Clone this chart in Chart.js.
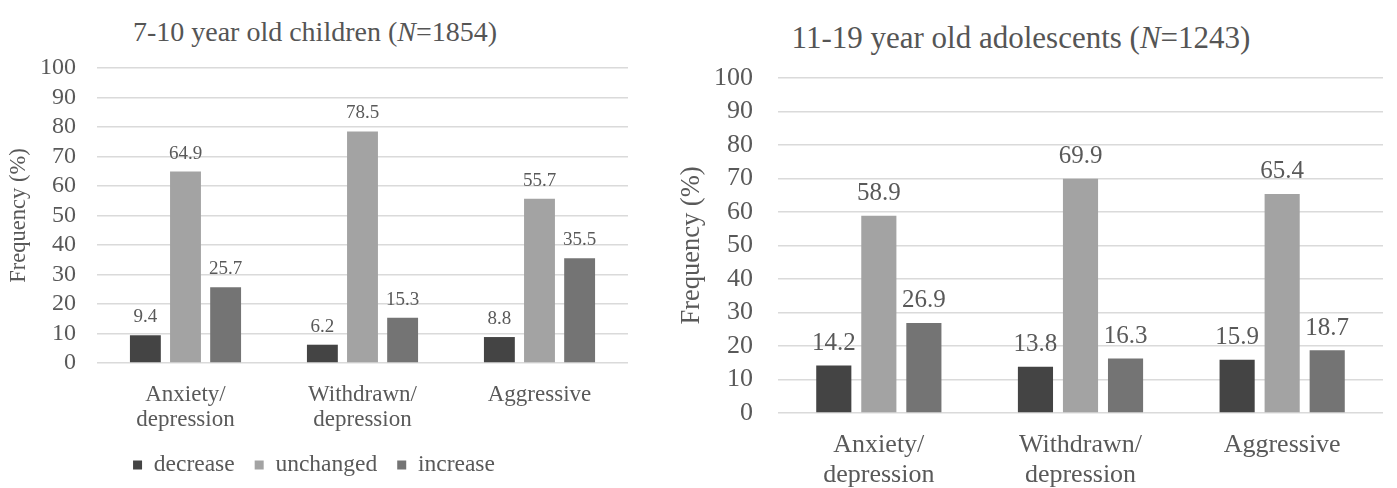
<!DOCTYPE html>
<html>
<head>
<meta charset="utf-8">
<script src="https://cdn.jsdelivr.net/npm/chart.js@4.4.1/dist/chart.umd.min.js"></script>
<style>
  body { margin: 0; background: #fff; overflow: hidden; width: 1397px; height: 488px; position: relative; }
  .title { position: absolute; font-family: 'Liberation Serif', serif; color: #555; text-align: center; white-space: nowrap; }
  #leftBox { position: absolute; left: 0; top: 0; width: 650px; height: 488px; }
  #rightBox { position: absolute; left: 660px; top: 0; width: 737px; height: 500px; }
</style>
</head>
<body>
<div class="title" style="left:115px;top:14px;width:400px;font-size:28px;line-height:36px;">7-10 year old children (<i>N</i>=1854)</div>
<div class="title" style="left:771px;top:18px;width:500px;font-size:31px;line-height:40px;">11-19 year old adolescents (<i>N</i>=1243)</div>
<div id="leftBox"><canvas id="left"></canvas></div>
<div id="rightBox"><canvas id="right"></canvas></div>
<script>
const categories = [['Anxiety/', 'depression'], ['Withdrawn/', 'depression'], 'Aggressive'];
const seriesNames = ['decrease', 'unchanged', 'increase'];
const seriesColors = ['#444444', '#a3a3a3', '#747474'];

const childDecrease = [9.4, 6.2, 8.8];
const childUnchanged = [64.9, 78.5, 55.7];
const childIncrease = [25.7, 15.3, 35.5];

const teenDecrease = [14.2, 13.8, 15.9];
const teenUnchanged = [58.9, 69.9, 65.4];
const teenIncrease = [26.9, 16.3, 18.7];

const yMax = 100;
const yStep = 10;

const textColor = '#595959';
const serif = '"Liberation Serif", "Times New Roman", serif';
Chart.defaults.font.family = serif;

// draws the value above every bar
const valueLabels = {
  id: 'valueLabels',
  afterDatasetsDraw(chart, args, opts) {
    const ctx = chart.ctx;
    ctx.save();
    ctx.font = opts.size + 'px ' + serif;
    ctx.fillStyle = textColor;
    ctx.textAlign = 'center';
    ctx.textBaseline = 'middle';
    chart.data.datasets.forEach((ds, i) => {
      chart.getDatasetMeta(i).data.forEach((bar, j) => {
        ctx.fillText(ds.data[j].toFixed(1), bar.x, bar.y - opts.offset);
      });
    });
    ctx.restore();
  }
};

function makeChart(id, values, s) {
  return new Chart(document.getElementById(id), {
    type: 'bar',
    data: {
      labels: categories,
      datasets: values.map((v, i) => ({
        label: seriesNames[i],
        data: v,
        backgroundColor: seriesColors[i],
        categoryPercentage: s.cp,
        barPercentage: s.bp
      }))
    },
    plugins: [valueLabels],
    options: {
      responsive: true,
      maintainAspectRatio: false,
      animation: false,
      layout: { padding: { top: s.top, right: s.right, bottom: s.bottom, left: 0 } },
      plugins: {
        tooltip: { enabled: false },
        valueLabels: { size: s.valueSize, offset: s.valueOffset },
        legend: {
          display: s.legend,
          position: 'bottom',
          labels: {
            boxWidth: 9,
            boxHeight: 9,
            padding: 20,
            color: textColor,
            font: { family: serif, size: s.legendSize }
          }
        }
      },
      scales: {
        x: {
          grid: { display: false, drawTicks: false },
          border: { display: false },
          ticks: {
            color: textColor,
            padding: s.xPad,
            maxRotation: 0,
            font: { family: serif, size: s.font, lineHeight: s.xLine }
          },
          afterFit: scale => { scale.height = s.xHeight; }
        },
        y: {
          min: 0,
          max: yMax,
          ticks: {
            stepSize: yStep,
            autoSkip: false,
            color: textColor,
            padding: s.yPad,
            font: { family: serif, size: s.tickSize }
          },
          grid: { color: '#dadada', lineWidth: 1.5, drawTicks: false },
          border: { display: false },
          title: {
            display: true,
            text: 'Frequency (%)',
            color: textColor,
            padding: { top: s.titlePad, bottom: 0 },
            font: { family: serif, size: s.yTitleSize }
          },
          afterFit: scale => { scale.width = s.yWidth; }
        }
      }
    }
  });
}

function drawAll() {
  makeChart('left', [childDecrease, childUnchanged, childIncrease], {
    cp: 0.68, bp: 0.77, top: 68, right: 22, bottom: 1.25,
    font: 23, tickSize: 24, xLine: 1.1, xPad: 19, xHeight: 70.25, yPad: 21, yWidth: 97,
    titlePad: 6, yTitleSize: 22.5, valueSize: 19, valueOffset: 18,
    legend: true, legendSize: 23.5
  });

  makeChart('right', [teenDecrease, teenUnchanged, teenIncrease], {
    cp: 0.67, bp: 0.78, top: 78, right: 14, bottom: 0,
    font: 26, tickSize: 26, xLine: 1.15, xPad: 17, xHeight: 87, yPad: 25, yWidth: 118,
    titlePad: 16, yTitleSize: 26.5, valueSize: 25, valueOffset: 22,
    legend: false, legendSize: 26
  });
}

// make sure the serif face is ready before the canvases measure text
document.fonts.load('23px "Liberation Serif"').then(drawAll, drawAll);
</script>
</body>
</html>
